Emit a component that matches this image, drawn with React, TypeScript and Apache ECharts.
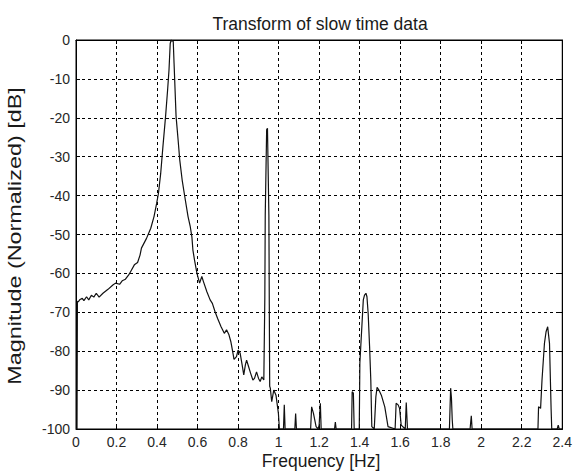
import React, { useEffect, useRef } from "react";
import * as echarts from "echarts";

const freq: number[] = [
  0, 0.005, 0.007, 0.011, 0.02, 0.031, 0.039, 0.052, 0.063, 0.076, 0.088, 0.1, 0.114, 0.133, 0.158, 0.182, 0.195,
  0.215, 0.228, 0.244, 0.26, 0.272, 0.288, 0.304, 0.316, 0.323, 0.348, 0.369, 0.385, 0.398, 0.407, 0.418, 0.429,
  0.442, 0.452, 0.459, 0.465, 0.47, 0.48, 0.484, 0.489, 0.494, 0.504, 0.512, 0.524, 0.537, 0.553, 0.564, 0.572,
  0.577, 0.585, 0.597, 0.61, 0.621, 0.629, 0.646, 0.662, 0.673, 0.686, 0.699, 0.716, 0.732, 0.743, 0.755, 0.764,
  0.772, 0.78, 0.792, 0.8, 0.81, 0.82, 0.828, 0.836, 0.842, 0.852, 0.862, 0.873, 0.881, 0.891, 0.901, 0.909, 0.917,
  0.927, 0.932, 0.934, 0.941, 0.945, 0.952, 0.954, 0.956, 0.959, 0.966, 0.976, 0.987, 0.999, 1.004, 1.024, 1.028, 1.032,
  1.08, 1.084, 1.088, 1.158, 1.163, 1.172, 1.185, 1.195, 1.2, 1.206, 1.21, 1.276, 1.28, 1.284, 1.36, 1.363, 1.369,
  1.373, 1.398, 1.401, 1.41, 1.418, 1.424, 1.431, 1.436, 1.442, 1.449, 1.455, 1.46, 1.472, 1.48, 1.486, 1.495, 1.507, 1.524, 1.54,
  1.575, 1.58, 1.59, 1.597, 1.605, 1.625, 1.63, 1.636, 1.843, 1.849, 1.853, 1.857, 1.86, 1.945, 1.951, 1.955, 2.28,
  2.283, 2.293, 2.3, 2.312, 2.32, 2.328, 2.337, 2.345, 2.348, 2.375, 2.38, 2.385, 2.4,
];

const magnitude: number[] = [
  -100, -100, -67.2, -67.3, -66.7, -66.4, -67, -66, -66.8, -65.6, -66.1, -65.1, -66.1, -65.1, -64.1, -63, -62.5,
  -62.8, -61.9, -61.5, -60.4, -59.3, -57.8, -57.2, -55.3, -53.5, -51, -48.4, -45.4, -42, -39.4, -34.3, -27.4,
  -19.7, -12.9, -7.7, -0.9, 0, -0.4, -6, -12.9, -19.7, -25.7, -30.8, -36, -40.3, -45.4, -48, -50.6,
  -54, -56.6, -60, -62.5, -60.8, -62.1, -64.7, -66.8, -67.7, -69.8, -71.6, -73.7, -75.4, -74.5, -75.8, -77.5,
  -79.7, -82.1, -81.4, -79.7, -80.5, -83.5, -86.1, -83.5, -82.3, -84, -85.7, -87.4, -87, -85.3, -87, -87.8, -86.6,
  -87.4, -66, -45, -23, -22.7, -45, -68, -89, -89.5, -93, -90, -91.3, -96, -100, -100, -93.8, -100,
  -100, -96, -100, -100, -94.3, -96, -99.4, -100, -99, -93.4, -100, -100, -98.2, -100, -100, -90.4, -90.8,
  -100, -100, -83, -74.5, -66.8, -65.6, -65.1, -66, -70.3, -78.8, -87.4, -99.4, -100, -91.7, -89.3, -90, -91.3, -94.3, -99.4,
  -100, -93.4, -93.8, -94.7, -99, -100, -93.2, -100, -100, -89.5, -92, -97.7, -100, -100, -96.6, -100, -100,
  -94.3, -94.7, -87.4, -78, -75, -73.7, -78, -95, -100, -100, -99, -100, -100,
];

const titleText = "Transform of slow time data";
const xName = "Frequency [Hz]";
const yName = "Magnitude (Normalized) [dB]";

const FONT = "'Liberation Sans', Arial, sans-serif";

export default function App() {
  const ref = useRef<HTMLDivElement>(null);

  useEffect(() => {
    if (!ref.current) return;
    const chart = echarts.init(ref.current, undefined, { renderer: "svg" });
    const data = freq.map((f, i) => [f, magnitude[i]]);
    const gridLine = { show: true, lineStyle: { color: "#000", type: [3, 3] as any, width: 1 } };
    const labelStyle = { color: "#262626", fontFamily: FONT, fontSize: 14 };
    const edgeAxis = {
      axisLine: { show: true, onZero: false, lineStyle: { color: "#000" } },
      axisTick: { show: true, inside: true, length: 4, lineStyle: { color: "#000" } },
    };
    chart.setOption({
      animation: false,
      backgroundColor: "#fff",
      grid: { left: 76, right: 7, top: 40, bottom: 42, show: true, borderColor: "#000", borderWidth: 1 },
      graphic: [
        {
          type: "text",
          x: 320,
          y: 23.5,
          style: { text: titleText, font: `17.5px ${FONT}`, fill: "#1a1a1a", textAlign: "center", textVerticalAlign: "middle" },
        },
        {
          type: "text",
          x: 321,
          y: 461,
          style: { text: xName, font: `17.5px ${FONT}`, fill: "#1a1a1a", textAlign: "center", textVerticalAlign: "middle" },
        },
        {
          type: "text",
          x: 15,
          y: 236,
          rotation: Math.PI / 2,
          scaleX: 1.3,
          style: { text: yName, font: `18px ${FONT}`, fill: "#1a1a1a", textAlign: "center", textVerticalAlign: "middle" },
        },
      ],
      xAxis: [
        {
          type: "value",
          min: 0,
          max: 2.4,
          interval: 0.2,
          ...edgeAxis,
          axisLabel: {
            ...labelStyle,
            margin: 6,
            formatter: (v: number) => String(Number(v.toFixed(1))),
          },
          splitLine: gridLine,
        },
        {
          type: "value",
          position: "top",
          min: 0,
          max: 2.4,
          interval: 0.2,
          ...edgeAxis,
          axisLabel: { show: false },
          splitLine: { show: false },
        },
      ],
      yAxis: [
        {
          type: "value",
          min: -100,
          max: 0,
          interval: 10,
          ...edgeAxis,
          axisLabel: { ...labelStyle, margin: 6 },
          splitLine: gridLine,
        },
        {
          type: "value",
          position: "right",
          min: -100,
          max: 0,
          interval: 10,
          ...edgeAxis,
          axisLabel: { show: false },
          splitLine: { show: false },
        },
      ],
      series: [
        {
          type: "line",
          data,
          xAxisIndex: 0,
          yAxisIndex: 0,
          symbol: "none",
          clip: true,
          lineStyle: { color: "#111", width: 1.2 },
        },
      ],
    });
    return () => chart.dispose();
  }, []);

  return <div ref={ref} style={{ width: 575, height: 471, position: "absolute", left: 0, top: 0 }} />;
}
